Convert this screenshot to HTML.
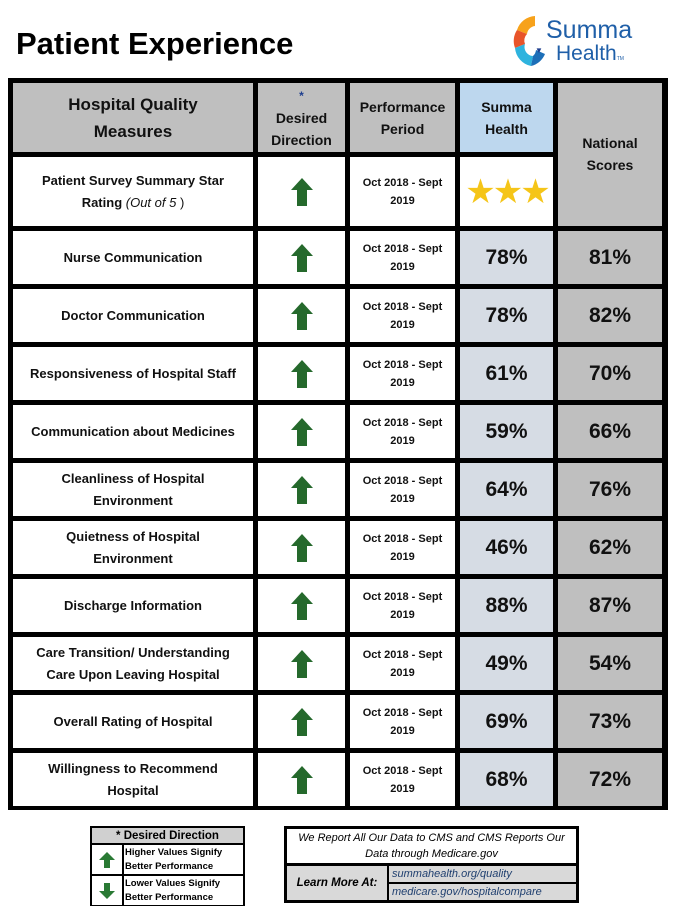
<!DOCTYPE html>
<html><head><meta charset="utf-8"><style>
body{margin:0;width:677px;height:910px;background:#fff;position:relative;overflow:hidden;font-family:"Liberation Sans",sans-serif;}
.a{position:absolute;box-sizing:border-box;display:flex;align-items:center;justify-content:center;text-align:center;}
.m{font-weight:bold;font-size:13px;line-height:22px;color:#111;}
.p{font-weight:bold;font-size:11px;line-height:18px;color:#111;}
.v{font-weight:bold;font-size:21px;color:#111;}
.h{font-weight:bold;font-size:14px;line-height:22px;color:#111;}
</style></head><body>
<div class="a" style="left:16px;top:22px;height:44px;font-size:31px;font-weight:bold;justify-content:flex-start;">Patient Experience</div>
<div style="position:absolute;left:505px;top:10px;width:150px;height:62px;">
<svg width="45" height="62" viewBox="0 0 45 62" style="position:absolute;left:0;top:0">
<path d="M30 6 A20 20 0 0 0 12 20 L22 24 A9 9 0 0 1 30 16 Z" fill="#f7a21b"/>
<path d="M12 20 A20 20 0 0 0 10 38 L20 34 A9 9 0 0 1 22 24 Z" fill="#e8542a"/>
<path d="M10 38 A20 20 0 0 0 26 56 L28 46 A9 9 0 0 1 20 34 Z" fill="#2eb3de"/>
<path d="M26 56 A20 20 0 0 0 40 44 L31 40 A9 9 0 0 1 28 46 Z" fill="#1d6fb8"/>
</svg>
<div style="position:absolute;left:41px;top:6px;font-size:25px;color:#1f5fa8;">Summa</div>
<div style="position:absolute;left:30px;top:36px;font-size:8px;color:#1f3f8f;">▼</div>
<div style="position:absolute;left:51px;top:32px;font-size:21px;color:#1f5fa8;">Health<span style="font-size:5px">TM</span></div>
</div>
<div style="position:absolute;left:8px;top:78px;width:660px;height:732px;background:#000;"></div>
<div class="a h" style="left:13px;top:83px;width:240px;height:69px;background:#bfbfbf;font-size:17px;line-height:27px;">Hospital Quality<br>Measures</div>
<div class="a h" style="left:258px;top:83px;width:87px;height:69px;background:#bfbfbf;line-height:22px;"><div><span style="font-size:12px;color:#1f3f8f">*</span><br>Desired<br>Direction</div></div>
<div class="a h" style="left:350px;top:83px;width:105px;height:69px;background:#bfbfbf;">Performance<br>Period</div>
<div class="a h" style="left:460px;top:83px;width:93px;height:69px;background:#bdd7ee;">Summa<br>Health</div>
<div class="a h" style="left:558px;top:83px;width:104px;height:143px;background:#bfbfbf;padding-bottom:2px;">National<br>Scores</div>
<div id="rows"></div>
<div style="position:absolute;left:90px;top:826px;width:155px;height:80px;background:#000;"></div>
<div class="a" style="left:92px;top:828px;width:151px;height:15px;background:#d0d0d0;font-size:11.5px;font-weight:bold;">* Desired Direction</div>
<div class="a" style="left:92px;top:845px;width:30px;height:29px;background:#fff;"><svg width="18" height="18" viewBox="0 0 18 18"><path d="M9 1 L17 9 L12 9 L12 17 L6 17 L6 9 L1 9Z" fill="#2a7a34"/></svg></div>
<div class="a" style="left:124px;top:845px;width:119px;height:29px;background:#fff;font-size:9.5px;font-weight:bold;line-height:14px;justify-content:flex-start;text-align:left;padding-left:1px;">Higher Values Signify<br>Better Performance</div>
<div class="a" style="left:92px;top:876px;width:30px;height:29px;background:#fff;"><svg width="18" height="18" viewBox="0 0 18 18"><path d="M9 17 L17 9 L12 9 L12 1 L6 1 L6 9 L1 9Z" fill="#2a7a34"/></svg></div>
<div class="a" style="left:124px;top:876px;width:119px;height:29px;background:#fff;font-size:9.5px;font-weight:bold;line-height:14px;justify-content:flex-start;text-align:left;padding-left:1px;">Lower Values Signify<br>Better Performance</div>
<div style="position:absolute;left:284px;top:826px;width:295px;height:77px;background:#000;"></div>
<div class="a" style="left:287px;top:829px;width:289px;height:34px;background:#fff;font-size:11px;font-style:italic;line-height:16px;">We Report All Our Data to CMS and CMS Reports Our<br>Data through Medicare.gov</div>
<div class="a" style="left:287px;top:866px;width:100px;height:34px;background:#d9d9d9;font-size:11.5px;font-weight:bold;font-style:italic;">Learn More At:</div>
<div class="a" style="left:389px;top:866px;width:187px;height:16px;background:#d9d9d9;font-size:11px;font-style:italic;color:#1f3f6f;justify-content:flex-start;padding-left:3px;">summahealth.org/quality</div>
<div class="a" style="left:389px;top:884px;width:187px;height:16px;background:#d9d9d9;font-size:11px;font-style:italic;color:#1f3f6f;justify-content:flex-start;padding-left:3px;">medicare.gov/hospitalcompare</div>
<script>
const measures=["Nurse Communication","Doctor Communication","Responsiveness of Hospital Staff","Communication about Medicines","Cleanliness of Hospital<br>Environment","Quietness of Hospital<br>Environment","Discharge Information","Care Transition/ Understanding<br>Care Upon Leaving Hospital","Overall Rating of Hospital","Willingness to Recommend<br>Hospital"];
const summaScores=[78,78,61,59,64,46,88,49,69,68];
const nationalScores=[81,82,70,66,76,62,87,54,73,72];
const period="Oct 2018 - Sept<br>2019";
const starRating=3;
const root=document.getElementById('rows');
const arrow='<svg width="24" height="30" viewBox="0 0 24 30"><path d="M12 1 L23 13 L17 13 L17 29 L7 29 L7 13 L1 13Z" fill="#25692c"/></svg>';
function cell(x,y,w,h,bg,cls,html,name){const d=document.createElement('div');d.className='a '+cls;d.style.cssText=`left:${x}px;top:${y}px;width:${w}px;height:${h}px;background:${bg};`;d.innerHTML=html;


root.appendChild(d);}
cell(13,157,240,69,'#fff','m','<div>Patient Survey Summary Star<br>Rating <span style="font-weight:normal;font-style:italic">(Out of 5</span><span style="font-weight:normal"> )</span></div>','star-measure');
cell(258,157,87,69,'#fff','',arrow,'star-direction');
cell(350,157,105,69,'#fff','p',period,'star-period');
cell(460,157,93,69,'#fff','','<span style="font-size:34px;color:#f5c518;letter-spacing:-3px">'+'★'.repeat(starRating)+'</span>','star-rating');
measures.forEach((m,i)=>{const y=231+i*58,h=53;
cell(13,y,240,h,'#fff','m','<div>'+m+'</div>','measure-'+i);
cell(258,y,87,h,'#fff','',arrow,'direction-'+i);
cell(350,y,105,h,'#fff','p',period,'period-'+i);
cell(460,y,93,h,'#d6dce4','v',summaScores[i]+'%','summa-score-'+i);
cell(558,y,104,h,'#bfbfbf','v',nationalScores[i]+'%','national-score-'+i);});
</script>
</body></html>
